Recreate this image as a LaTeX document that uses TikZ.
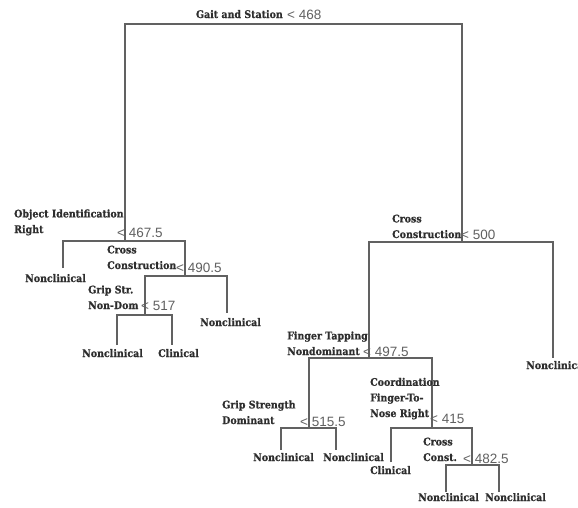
\documentclass[tikz,border=0pt]{standalone}
\usepackage{fontspec}
\newfontfamily\labfont[FakeStretch=0.9,BoldFeatures={FakeBold=0.6}]{DejaVu Serif}
\newfontfamily\numfont{Liberation Sans}
\tikzset{
  lab/.style={anchor=base west, inner sep=0pt, font=\labfont\bfseries\fontsize{10.5}{13}\selectfont, text=black!82},
  thr/.style={anchor=base west, inner sep=0pt, font=\numfont\fontsize{13.5}{16}\selectfont, text=black!62},
  edge/.style={draw=black!62, line width=1.1pt},
}
\newcommand{\ml}[1]{\renewcommand\arraystretch{1.2}\begin{tabular}[b]{@{}l@{}}#1\end{tabular}}
\begin{document}
\begin{tikzpicture}[x=1pt,y=-1pt]
\useasboundingbox[fill=white] (0,0) rectangle (578,507);
% split points
\coordinate (s0) at (293,24);
\coordinate (s1) at (125,241);
\coordinate (s2) at (462,242);
\coordinate (s3) at (185,276);
\coordinate (s4) at (145,315);
\coordinate (s5) at (369,358);
\coordinate (s6) at (309,428);
\coordinate (s7) at (432,428);
\coordinate (s8) at (472,465);
% leaf ends
\coordinate (l1) at (63,268);
\coordinate (l2) at (227,313);
\coordinate (l3) at (117,345);
\coordinate (l4) at (172,345);
\coordinate (l5) at (553,358);
\coordinate (l6) at (281,450);
\coordinate (l7) at (336,450);
\coordinate (l8) at (391,462);
\coordinate (l9) at (446,492);
\coordinate (l10) at (499,492);
% connectors
\draw[edge] (s1) -- (s1 |- s0) -- (s2 |- s0) -- (s2);
\draw[edge] (l1) -- (l1 |- s1) -- (s3 |- s1) -- (s3);
\draw[edge] (s4) -- (s4 |- s3) -- (l2 |- s3) -- (l2);
\draw[edge] (l3) -- (l3 |- s4) -- (l4 |- s4) -- (l4);
\draw[edge] (s5) -- (s5 |- s2) -- (l5 |- s2) -- (l5);
\draw[edge] (s6) -- (s6 |- s5) -- (s7 |- s5) -- (s7);
\draw[edge] (l6) -- (l6 |- s6) -- (l7 |- s6) -- (l7);
\draw[edge] (l8) -- (l8 |- s7) -- (s8 |- s7) -- (s8);
\draw[edge] (l9) -- (l9 |- s8) -- (l10 |- s8) -- (l10);
% split labels
\node[lab, anchor=base east] (n0) at (283,18) {Gait and Station};
\node[thr] (t0) at (287,19) {< 468};
\node[lab] (n1) at (14,233) {\ml{Object Identification\\Right}};
\node[thr] (t1) at (117,237) {< 467.5};
\node[lab] (n3) at (107,269) {\ml{Cross\\Construction}};
\node[thr] (t3) at (176,272) {< 490.5};
\node[lab] (n4) at (88,309) {\ml{Grip Str.\\Non-Dom}};
\node[thr] (t4) at (141,310) {< 517};
\node[lab] (n2) at (392,238) {\ml{Cross\\Construction}};
\node[thr] (t2) at (461,239) {< 500};
\node[lab] (n5) at (287,355) {\ml{Finger Tapping\\Nondominant}};
\node[thr] (t5) at (363,356) {< 497.5};
\node[lab] (n6) at (222,424) {\ml{Grip Strength\\Dominant}};
\node[thr] (t6) at (300,426) {< 515.5};
\node[lab] (n7) at (370,417) {\ml{Coordination\\Finger-To-\\Nose Right}};
\node[thr] (t7) at (430,423) {< 415};
\node[lab] (n8) at (423,461) {\ml{Cross\\Const.}};
\node[thr] (t8) at (463,463) {< 482.5};
% leaf labels
\node[lab] (f1) at (25,282) {Nonclinical};
\node[lab] (f2) at (200,326) {Nonclinical};
\node[lab] (f3) at (82,357) {Nonclinical};
\node[lab] (f4) at (158,357) {Clinical};
\node[lab] (f5) at (526,369) {Nonclinical};
\node[lab] (f6) at (253,461) {Nonclinical};
\node[lab] (f7) at (323,461) {Nonclinical};
\node[lab] (f8) at (370,474) {Clinical};
\node[lab] (f9) at (418,501) {Nonclinical};
\node[lab] (f10) at (485,501) {Nonclinical};
\end{tikzpicture}
\end{document}
